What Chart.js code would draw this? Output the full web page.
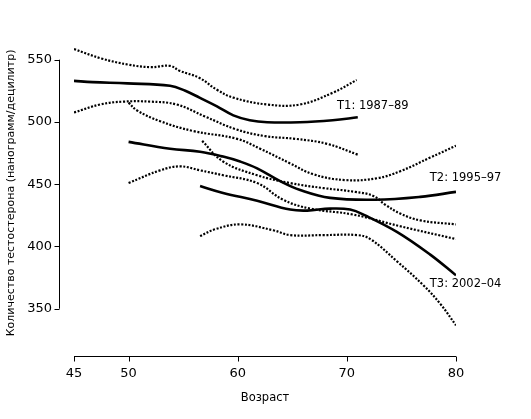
<!DOCTYPE html>
<html>
<head>
<meta charset="utf-8">
<script src="https://cdn.jsdelivr.net/npm/chart.js@4/dist/chart.umd.min.js"></script>
<style>
html,body{margin:0;padding:0;background:#fff;}
#wrap{width:531px;height:419px;}
</style>
</head>
<body>
<div id="wrap"><canvas id="c" width="531" height="419"></canvas></div>
<script>
// ---- data (age in years, testosterone in ng/dL) ----
const xTicks = [45, 50, 60, 70, 80];
const yTicks = [350, 400, 450, 500, 550];

const t1Age   = [45, 46.7, 49.9, 53.8, 55.2, 56.5, 58.1, 59.6, 61.1, 62.7, 65.7, 68.7, 71];
const t1Mean  = [533, 532, 531, 529, 525, 519.5, 512.5, 505.3, 501.4, 499.8, 499.8, 501.4, 503.7];
const t1UpAge = [45, 47.5, 50, 52, 53.8, 54.7, 56.5, 58.1, 59.6, 62.7, 65.7, 68.7, 70.9];
const t1Upper = [558.5, 551, 546, 544, 545, 541, 535.3, 525.8, 519.5, 514, 514, 523.4, 533.7];
const t1LoAge = [45, 47.4, 49.5, 52, 54.4, 57, 59.8, 62.5, 65.3, 68.2, 71];
const t1Lower = [507.6, 514, 516.3, 516.3, 514, 504.4, 494.2, 488.6, 486.4, 482.4, 473.7];

const t2Age   = [50, 53.8, 56.55, 58.66, 60.22, 61.78, 63.89, 65.72, 68.47, 72.6, 76.73, 80];
const t2Mean  = [484, 478.5, 476.1, 472.2, 468.2, 462.7, 452.4, 445.3, 439, 437.5, 439.8, 443.8];
const t2UpAge = [50, 50.78, 52.89, 55.91, 59.95, 62.05, 64.81, 66.91, 69.85, 72.78, 74.89, 77.64, 80];
const t2Upper = [515.5, 509.2, 500.6, 492.7, 486.4, 478.5, 466.7, 458, 453.3, 454.8, 460.4, 471.4, 480.9];
const t2LoAge = [50, 52.89, 54.72, 56.55, 58.66, 61.78, 64.16, 66.64, 70.58, 74.89, 80];
const t2Lower = [450.9, 461.1, 464.3, 461.1, 457.2, 450.9, 437.5, 430.4, 425.6, 416.2, 405.9];

const t3Age   = [56.55, 58.66, 61.78, 64.81, 66.36, 68.47, 70.3, 71.68, 74.62, 77.64, 80];
const t3Mean  = [448.5, 443, 436.7, 429.6, 428.8, 430.4, 429.6, 424.9, 411.5, 393.4, 376.8];
const t3UpAge = [56.74, 58.66, 61.78, 64.81, 67.83, 70.77, 72.42, 73.52, 74.89, 76.73, 80];
const t3Upper = [484.8, 468.2, 457.2, 450.9, 446.9, 443.8, 440.6, 433.5, 426.4, 420.9, 417.7];
const t3LoAge = [56.55, 57.93, 60.22, 63.25, 64.81, 67.83, 70.95, 72.15, 74.62, 77, 78.56, 80];
const t3Lower = [408.3, 413.8, 417.7, 413, 409.1, 409.1, 409.1, 405.9, 387.8, 368.9, 353.9, 336.6];

const seriesLabels = ['T1: 1987–89', 'T2: 1995–97', 'T3: 2002–04'];
const labelAge = [69.1, 77.6, 77.6];
const labelVal = [512.4, 454.8, 369.7];

const xTitle = 'Возраст';
const yTitle = 'Количество тестостерона (нанограмм/децилитр)';

// ---- build ----
function pts(xs, ys) { return xs.map((x, i) => ({x: x, y: ys[i]})); }
function solid(xs, ys) {
  return {data: pts(xs, ys), borderColor: '#000', borderWidth: 2.6, pointRadius: 0,
          tension: 0.4, fill: false};
}
function dotted(xs, ys) {
  return {data: pts(xs, ys), borderColor: '#000', borderWidth: 2.2, borderDash: [2, 1.6],
          pointRadius: 0, tension: 0.4, fill: false};
}

Chart.defaults.font.family = "'DejaVu Sans', sans-serif";
Chart.defaults.color = '#000';

const axesPlugin = {
  id: 'axesPlugin',
  afterDraw(chart) {
    const ctx = chart.ctx;
    const xs = chart.scales.x, ys = chart.scales.y;
    const ca = chart.chartArea;
    ctx.save();
    ctx.strokeStyle = '#000';
    ctx.lineWidth = 1;
    // y axis (detached)
    const yx = Math.round(ca.left - 15) + 0.5;
    const yTop = ys.getPixelForValue(yTicks[yTicks.length - 1]);
    const yBot = ys.getPixelForValue(yTicks[0]);
    ctx.beginPath();
    ctx.moveTo(yx, yTop); ctx.lineTo(yx, yBot);
    yTicks.forEach(v => {
      const p = Math.round(ys.getPixelForValue(v)) + 0.5;
      ctx.moveTo(yx - 5, p); ctx.lineTo(yx, p);
    });
    ctx.stroke();
    // x axis
    const xy = Math.round(ca.bottom) + 0.5;
    ctx.beginPath();
    ctx.moveTo(xs.getPixelForValue(xTicks[0]), xy);
    ctx.lineTo(xs.getPixelForValue(xTicks[xTicks.length - 1]), xy);
    xTicks.forEach(v => {
      const p = Math.round(xs.getPixelForValue(v)) + 0.5;
      ctx.moveTo(p, xy); ctx.lineTo(p, xy + 5);
    });
    ctx.stroke();
    // series labels
    ctx.fillStyle = '#000';
    ctx.font = "11.5px 'DejaVu Sans', sans-serif";
    ctx.textAlign = 'left';
    ctx.textBaseline = 'middle';
    seriesLabels.forEach((t, i) => {
      ctx.fillText(t, xs.getPixelForValue(labelAge[i]), ys.getPixelForValue(labelVal[i]));
    });
    ctx.restore();
  }
};

new Chart(document.getElementById('c'), {
  type: 'line',
  data: {
    datasets: [
      solid(t1Age, t1Mean), dotted(t1UpAge, t1Upper), dotted(t1LoAge, t1Lower),
      solid(t2Age, t2Mean), dotted(t2UpAge, t2Upper), dotted(t2LoAge, t2Lower),
      solid(t3Age, t3Mean), dotted(t3UpAge, t3Upper), dotted(t3LoAge, t3Lower)
    ]
  },
  options: {
    responsive: false,
    animation: false,
    layout: {padding: {left: 0, top: 24, right: 75, bottom: 0}},
    plugins: {legend: {display: false}, tooltip: {enabled: false}},
    scales: {
      x: {
        type: 'linear', min: 45, max: 80,
        afterBuildTicks(s) { s.ticks = xTicks.map(v => ({value: v})); },
        afterFit(s) { s.height = 63; },
        grid: {display: false, drawTicks: false},
        border: {display: false},
        ticks: {padding: 10, font: {size: 13}, color: '#000', maxRotation: 0, autoSkip: false},
        title: {display: true, text: xTitle, color: '#000', font: {size: 11.5},
                padding: {top: 0, bottom: 14}}
      },
      y: {
        type: 'linear', min: 312, max: 574,
        afterBuildTicks(s) { s.ticks = yTicks.map(v => ({value: v})); },
        afterFit(s) { s.width = 74; },
        grid: {display: false, drawTicks: false},
        border: {display: false},
        ticks: {padding: 22, font: {size: 13}, color: '#000', autoSkip: false},
        title: {display: true, text: yTitle, color: '#000', font: {size: 11},
                padding: {top: 5, bottom: 0}}
      }
    }
  },
  plugins: [axesPlugin]
});
</script>
</body>
</html>
